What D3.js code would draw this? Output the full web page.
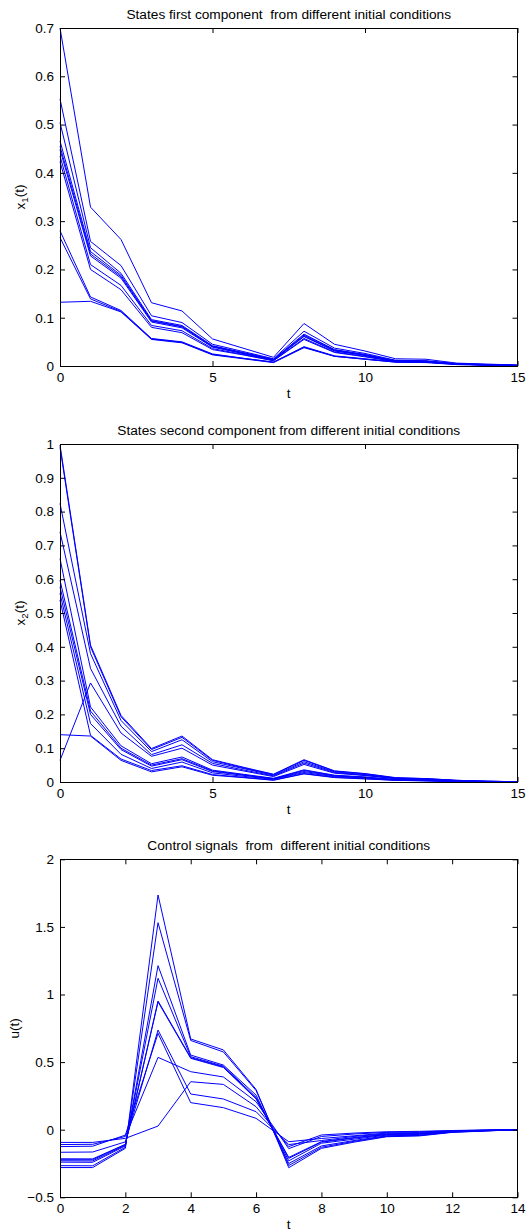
<!DOCTYPE html>
<html>
<head>
<meta charset="utf-8">
<script src="https://cdn.jsdelivr.net/npm/d3@7/dist/d3.min.js"></script>
<style>
  html, body { margin: 0; padding: 0; background: #fff; }
  svg { display: block; }
  text { font-family: "Liberation Sans", Arial, Helvetica, sans-serif; fill: #000; }
  .title { white-space: pre; }
</style>
</head>
<body>
<svg id="chart" width="529" height="1232"></svg>
<script>
// ---------------- DATA ----------------
const tStates = [0,1,2,3,4,5,6,7,8,9,10,11,12,13,14,15];
const tControl = [0,1,2,3,4,5,6,7,8,9,10,11,12,13,14];

const titles = [
  "States first component  from different initial conditions",
  "States second component from different initial conditions",
  "Control signals  from  different initial conditions"
];

const x1Ticks = [0, 5, 10, 15];
const x1YTicks = [0, 0.1, 0.2, 0.3, 0.4, 0.5, 0.6, 0.7];
const x1YLabels = ["0", "0.1", "0.2", "0.3", "0.4", "0.5", "0.6", "0.7"];

const x2Ticks = [0, 5, 10, 15];
const x2YTicks = [0, 0.1, 0.2, 0.3, 0.4, 0.5, 0.6, 0.7, 0.8, 0.9, 1];
const x2YLabels = ["0", "0.1", "0.2", "0.3", "0.4", "0.5", "0.6", "0.7", "0.8", "0.9", "1"];

const uTicks = [0, 2, 4, 6, 8, 10, 12, 14];
const uYTicks = [-0.5, 0, 0.5, 1, 1.5, 2];
const uYLabels = ["\u22120.5", "0", "0.5", "1", "1.5", "2"];

// state x1 trajectories (one row per initial condition)
const x1Values = [
  [0.700, 0.329, 0.262, 0.131, 0.114, 0.056, 0.037, 0.018, 0.088, 0.045, 0.031, 0.015, 0.014, 0.006, 0.004, 0.002],
  [0.553, 0.258, 0.208, 0.104, 0.090, 0.045, 0.030, 0.015, 0.072, 0.037, 0.026, 0.012, 0.011, 0.005, 0.003, 0.002],
  [0.504, 0.245, 0.192, 0.096, 0.084, 0.042, 0.028, 0.014, 0.066, 0.034, 0.024, 0.011, 0.010, 0.004, 0.003, 0.001],
  [0.466, 0.237, 0.188, 0.094, 0.082, 0.041, 0.027, 0.013, 0.064, 0.033, 0.023, 0.011, 0.010, 0.004, 0.003, 0.001],
  [0.455, 0.232, 0.185, 0.093, 0.081, 0.040, 0.026, 0.013, 0.062, 0.032, 0.022, 0.010, 0.009, 0.004, 0.003, 0.001],
  [0.448, 0.228, 0.182, 0.091, 0.079, 0.039, 0.026, 0.012, 0.061, 0.031, 0.022, 0.010, 0.009, 0.004, 0.002, 0.001],
  [0.435, 0.210, 0.167, 0.084, 0.073, 0.036, 0.024, 0.011, 0.057, 0.029, 0.020, 0.009, 0.009, 0.004, 0.002, 0.001],
  [0.423, 0.200, 0.158, 0.080, 0.069, 0.034, 0.023, 0.011, 0.055, 0.028, 0.019, 0.009, 0.008, 0.004, 0.002, 0.001],
  [0.280, 0.143, 0.115, 0.057, 0.050, 0.025, 0.016, 0.008, 0.040, 0.021, 0.015, 0.009, 0.008, 0.004, 0.002, 0.001],
  [0.266, 0.139, 0.113, 0.056, 0.049, 0.024, 0.016, 0.008, 0.039, 0.020, 0.014, 0.008, 0.008, 0.003, 0.002, 0.001],
  [0.132, 0.134, 0.112, 0.055, 0.048, 0.023, 0.015, 0.007, 0.038, 0.020, 0.014, 0.008, 0.007, 0.003, 0.002, 0.001]
];

// state x2 trajectories
const x2Values = [
  [0.997, 0.405, 0.197, 0.099, 0.136, 0.066, 0.044, 0.023, 0.066, 0.033, 0.025, 0.013, 0.010, 0.005, 0.002, 0.001],
  [0.990, 0.400, 0.193, 0.096, 0.132, 0.064, 0.042, 0.022, 0.064, 0.032, 0.024, 0.012, 0.010, 0.005, 0.002, 0.001],
  [0.824, 0.380, 0.182, 0.090, 0.125, 0.060, 0.040, 0.020, 0.060, 0.030, 0.022, 0.011, 0.009, 0.004, 0.002, 0.001],
  [0.740, 0.336, 0.165, 0.081, 0.110, 0.055, 0.036, 0.018, 0.056, 0.028, 0.020, 0.010, 0.008, 0.004, 0.002, 0.001],
  [0.064, 0.293, 0.145, 0.076, 0.100, 0.050, 0.033, 0.016, 0.052, 0.026, 0.019, 0.010, 0.008, 0.004, 0.002, 0.001],
  [0.661, 0.222, 0.107, 0.054, 0.074, 0.035, 0.023, 0.011, 0.036, 0.020, 0.015, 0.007, 0.005, 0.002, 0.001, 0.000],
  [0.597, 0.210, 0.100, 0.050, 0.069, 0.033, 0.021, 0.010, 0.034, 0.019, 0.014, 0.007, 0.005, 0.002, 0.001, 0.000],
  [0.577, 0.200, 0.096, 0.047, 0.066, 0.031, 0.020, 0.009, 0.031, 0.018, 0.013, 0.006, 0.005, 0.002, 0.001, 0.000],
  [0.558, 0.173, 0.082, 0.040, 0.059, 0.027, 0.017, 0.008, 0.028, 0.016, 0.012, 0.006, 0.004, 0.002, 0.001, 0.000],
  [0.538, 0.138, 0.068, 0.034, 0.048, 0.022, 0.014, 0.006, 0.025, 0.014, 0.010, 0.005, 0.004, 0.002, 0.001, 0.000],
  [0.140, 0.136, 0.064, 0.030, 0.045, 0.020, 0.013, 0.005, 0.024, 0.013, 0.009, 0.005, 0.003, 0.001, 0.001, 0.000]
];

// control signal trajectories
const uValues = [
  [-0.280, -0.280, -0.138, 1.736, 0.671, 0.590, 0.298, -0.281, -0.138, -0.092, -0.052, -0.046, -0.020, -0.010, 0.000],
  [-0.266, -0.267, -0.130, 1.531, 0.660, 0.575, 0.290, -0.265, -0.130, -0.086, -0.049, -0.043, -0.018, -0.009, 0.000],
  [-0.240, -0.241, -0.120, 1.213, 0.552, 0.478, 0.256, -0.250, -0.120, -0.080, -0.045, -0.040, -0.017, -0.008, 0.000],
  [-0.230, -0.231, -0.115, 1.120, 0.540, 0.470, 0.240, -0.230, -0.100, -0.070, -0.040, -0.035, -0.015, -0.007, 0.000],
  [-0.222, -0.222, -0.110, 0.952, 0.533, 0.465, 0.232, -0.212, -0.092, -0.062, -0.036, -0.031, -0.013, -0.006, 0.000],
  [-0.215, -0.216, -0.108, 0.945, 0.528, 0.460, 0.228, -0.205, -0.088, -0.058, -0.034, -0.029, -0.012, -0.006, 0.000],
  [-0.167, -0.165, -0.090, 0.737, 0.264, 0.227, 0.133, -0.110, -0.080, -0.050, -0.030, -0.026, -0.011, -0.005, 0.000],
  [-0.125, -0.122, -0.040, 0.713, 0.200, 0.163, 0.084, -0.089, -0.065, -0.045, -0.025, -0.021, -0.010, -0.004, 0.000],
  [-0.110, -0.108, -0.050, 0.535, 0.429, 0.390, 0.207, -0.140, -0.050, -0.032, -0.020, -0.016, -0.008, -0.003, 0.000],
  [-0.094, -0.094, -0.064, 0.027, 0.355, 0.335, 0.170, -0.125, -0.039, -0.025, -0.015, -0.012, -0.006, -0.002, 0.000]
];

// ---------------- DRAW ----------------
const svg = d3.select("#chart");
const FONT = 13.5;
const TITLE_FONT = 13.7;
const left = 60, right = 517.5, height = 338;

const panels = [
  { top: 28,   t: tStates,  series: x1Values, xDom: [0, 15], yDom: [0, 0.7],  xTicks: x1Ticks, yTicks: x1YTicks, yLabels: x1YLabels, ylab: ["x", "1", "(t)"], ylabX: 25, title: titles[0] },
  { top: 444,  t: tStates,  series: x2Values, xDom: [0, 15], yDom: [0, 1],    xTicks: x2Ticks, yTicks: x2YTicks, yLabels: x2YLabels, ylab: ["x", "2", "(t)"], ylabX: 25, title: titles[1] },
  { top: 859.3,t: tControl, series: uValues,  xDom: [0, 14], yDom: [-0.5, 2], xTicks: uTicks,  yTicks: uYTicks,  yLabels: uYLabels,  ylab: ["u(t)"],          ylabX: 19, title: titles[2] }
];

panels.forEach(p => {
  const bottom = p.top + height;
  const x = d3.scaleLinear().domain(p.xDom).range([left, right]);
  const y = d3.scaleLinear().domain(p.yDom).range([bottom, p.top]);
  const g = svg.append("g");

  // data lines
  const line = d3.line().x((d, i) => x(p.t[i])).y(d => y(d));
  g.append("g").selectAll("path").data(p.series).join("path")
    .attr("d", line)
    .attr("fill", "none")
    .attr("stroke", "#0000ff")
    .attr("stroke-width", 1);

  // axes with inward ticks
  const styleAxis = sel => {
    sel.attr("font-family", null).attr("font-size", null);
    sel.select(".domain").remove();
    sel.selectAll(".tick line").attr("stroke", "#000").attr("stroke-width", 1);
    sel.selectAll(".tick text").style("font-size", FONT + "px").attr("fill", "#000");
  };

  g.append("g").attr("transform", `translate(0,${bottom})`)
    .call(d3.axisBottom(x).tickValues(p.xTicks).tickSizeInner(-5).tickSizeOuter(0).tickPadding(6).tickFormat(d3.format("d")))
    .call(styleAxis);
  g.append("g").attr("transform", `translate(0,${p.top})`)
    .call(d3.axisTop(x).tickValues(p.xTicks).tickSizeInner(-5).tickSizeOuter(0).tickFormat(""))
    .call(styleAxis);
  g.append("g").attr("transform", `translate(${left},0)`)
    .call(d3.axisLeft(y).tickValues(p.yTicks).tickSizeInner(-5).tickSizeOuter(0).tickPadding(6)
      .tickFormat((d, i) => p.yLabels[i]))
    .call(styleAxis);
  g.append("g").attr("transform", `translate(${right},0)`)
    .call(d3.axisRight(y).tickValues(p.yTicks).tickSizeInner(-5).tickSizeOuter(0).tickFormat(""))
    .call(styleAxis);

  // box
  g.append("rect")
    .attr("x", left + 0.5).attr("y", Math.round(p.top) + 0.5)
    .attr("width", right - left - 0.5).attr("height", height)
    .attr("fill", "none").attr("stroke", "#000").attr("stroke-width", 1);

  // title
  g.append("text")
    .attr("class", "title")
    .attr("xml:space", "preserve")
    .attr("x", (left + right) / 2).attr("y", p.top - 9.5)
    .attr("text-anchor", "middle")
    .style("font-size", TITLE_FONT + "px")
    .text(p.title);

  // x label
  g.append("text")
    .attr("x", (left + right) / 2).attr("y", bottom + 32)
    .attr("text-anchor", "middle")
    .style("font-size", FONT + "px")
    .text("t");

  // y label
  const yl = g.append("text")
    .attr("transform", `translate(${p.ylabX},${(p.top + bottom) / 2}) rotate(-90)`)
    .attr("text-anchor", "middle")
    .style("font-size", FONT + "px");
  if (p.ylab.length === 3) {
    yl.append("tspan").text(p.ylab[0]);
    yl.append("tspan").attr("dy", "0.3em").style("font-size", (FONT * 0.72) + "px").text(p.ylab[1]);
    yl.append("tspan").attr("dy", "-0.3em").text(p.ylab[2]);
  } else {
    yl.text(p.ylab[0]);
  }
});
</script>
</body>
</html>
